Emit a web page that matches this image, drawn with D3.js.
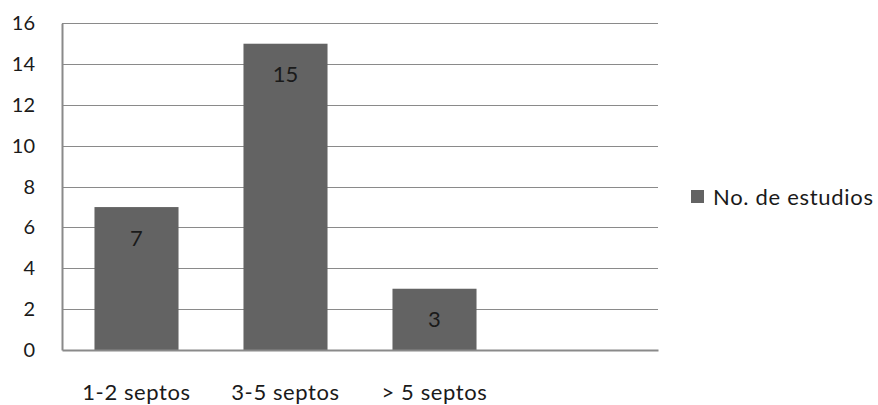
<!DOCTYPE html>
<html>
<head>
<meta charset="utf-8">
<script src="https://cdn.jsdelivr.net/npm/d3@7"></script>
<style>
  html, body { margin: 0; padding: 0; background: #fff; }
  svg { display: block; }
  text { font-family: Lato, "Open Sans", sans-serif; }
</style>
</head>
<body>
<svg id="chart" width="878" height="405"></svg>
<script>
// Number of studies per septum count group
const categories = ["1-2 septos", "3-5 septos", "> 5 septos", ""];
const values = [7, 15, 3, null];
const yTicks = [0, 2, 4, 6, 8, 10, 12, 14, 16];
const seriesName = "No. de estudios";

const svg = d3.select("#chart");
const plot = { left: 62, right: 658, top: 23.3, bottom: 350 };

const x = d3.scaleBand()
  .domain(categories.map((c, i) => i))
  .range([plot.left, plot.right])
  .paddingInner(0.436)
  .paddingOuter(0.218);

const y = d3.scaleLinear().domain([0, 16]).range([plot.bottom, plot.top]);

const barColor = "#636363";
const gridColor = "#8a8a8a";

// horizontal gridlines
svg.append("g")
  .selectAll("line")
  .data(yTicks.filter(d => d > 0))
  .join("line")
  .attr("x1", plot.left).attr("x2", plot.right)
  .attr("y1", d => Math.round(y(d)) + 0.5).attr("y2", d => Math.round(y(d)) + 0.5)
  .attr("stroke", gridColor).attr("stroke-width", 1);

// bars
const data = categories.map((c, i) => ({ c, i, v: values[i] })).filter(d => d.v != null);
svg.append("g")
  .selectAll("rect")
  .data(data)
  .join("rect")
  .attr("x", d => x(d.i))
  .attr("width", x.bandwidth())
  .attr("y", d => y(d.v))
  .attr("height", d => y(0) - y(d.v))
  .attr("fill", barColor);

// value labels inside the bars
svg.append("g")
  .selectAll("text")
  .data(data)
  .join("text")
  .attr("x", d => x(d.i) + x.bandwidth() / 2)
  .attr("y", d => y(d.v) + 30)
  .attr("text-anchor", "middle")
  .attr("dominant-baseline", "central")
  .attr("font-size", 22)
  .attr("fill", "#1a1a1a")
  .text(d => d.v);

// y axis
const yAxis = svg.append("g")
  .attr("transform", `translate(${plot.left},0)`)
  .call(d3.axisLeft(y).tickValues(yTicks).tickSize(0).tickPadding(27));
yAxis.select(".domain").attr("stroke", gridColor).attr("stroke-width", 2);
yAxis.selectAll("text").attr("font-size", 20).attr("fill", "#1a1a1a").attr("font-family", "Lato, sans-serif");

// x axis
const xAxis = svg.append("g")
  .attr("transform", `translate(0,${plot.bottom})`)
  .call(d3.axisBottom(x).tickFormat(i => categories[i]).tickSize(0).tickPadding(34));
xAxis.select(".domain").attr("stroke", gridColor).attr("stroke-width", 2);
xAxis.selectAll("text")
  .attr("font-size", 22)
  .attr("letter-spacing", 0.6)
  .attr("fill", "#1a1a1a")
  .attr("font-family", "Lato, sans-serif");

// legend
const legend = svg.append("g").attr("transform", "translate(691,190)");
legend.append("rect").attr("width", 13).attr("height", 13).attr("fill", barColor);
legend.append("text")
  .attr("x", 22).attr("y", 6.5)
  .attr("dominant-baseline", "central")
  .attr("font-size", 22)
  .attr("letter-spacing", 0.7)
  .attr("fill", "#1a1a1a")
  .text(seriesName);
</script>
</body>
</html>
